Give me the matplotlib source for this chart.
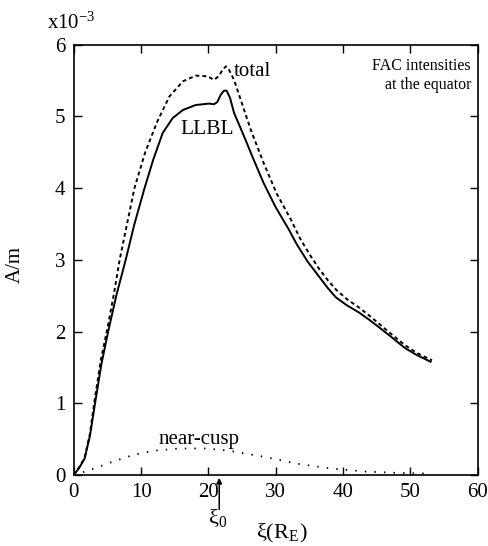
import numpy as np
import matplotlib
matplotlib.use('Agg')
import matplotlib.pyplot as plt

plt.rcParams['font.family'] = ['Liberation Serif', 'DejaVu Serif']
plt.rcParams['mathtext.fontset'] = 'stix'

# values (x in R_E, y in 1e-3 A/m)
llbl_x = [0, 0.8, 1.6, 2.4, 3.1, 4.1, 5.1, 6.3, 7.7, 9.0, 10.5, 11.8, 13.2,
          14.7, 16.2, 18.1, 20.1, 20.8, 21.3, 21.8, 22.3, 22.7, 23.2, 23.8,
          25.3, 26.7, 28.2, 29.95, 31.9, 33.1, 34.7, 36.4, 37.7, 38.9, 40.5,
          42.3, 43.8, 45.2, 47.1, 49.2, 51.0, 53.0]
llbl_y = [0, 0.1, 0.23, 0.55, 0.97, 1.55, 2.0, 2.5, 3.0, 3.5, 4.0, 4.4, 4.77,
          4.98, 5.09, 5.16, 5.18, 5.17, 5.2, 5.3, 5.36, 5.36, 5.26, 5.05,
          4.72, 4.4, 4.07, 3.74, 3.43, 3.22, 2.98, 2.77, 2.61, 2.48, 2.37,
          2.27, 2.17, 2.07, 1.93, 1.77, 1.67, 1.58]

total_x = [0, 0.8, 1.6, 2.4, 3.0, 4.0, 5.0, 6.0, 6.8, 7.9, 9.0, 10.6, 12.4,
           14.2, 16.2, 18.1, 19.9, 20.8, 21.5, 22.1, 22.6, 23.0, 23.8, 24.8,
           26.3, 28.2, 30.1, 32.2, 33.6, 35.0, 36.4, 37.7, 39.0, 40.6, 42.3,
           43.8, 45.2, 47.1, 49.2, 51.0, 53.2]
total_y = [0, 0.11, 0.24, 0.58, 0.99, 1.6, 2.05, 2.55, 3.0, 3.5, 4.0, 4.5, 4.93,
           5.28, 5.49, 5.57, 5.56, 5.51, 5.56, 5.65, 5.7, 5.66, 5.51, 5.23,
           4.81, 4.35, 3.93, 3.57, 3.3, 3.08, 2.88, 2.72, 2.58, 2.45, 2.34,
           2.23, 2.12, 1.97, 1.81, 1.7, 1.6]

cusp_x = [0, 2.4, 5.0, 8.8, 12.0, 15.7, 19.6, 23.0, 28.5, 33.0, 38.3, 43.0,
          48.0, 53.0]
cusp_y = [0, 0.07, 0.16, 0.28, 0.34, 0.37, 0.37, 0.34, 0.25, 0.16, 0.09, 0.05,
          0.03, 0.02]

xi0 = 21.6

fig = plt.figure(figsize=(4.89, 5.46), dpi=100)
ax = fig.add_axes([0.151, 0.130, 0.826, 0.788])

ax.plot(llbl_x, llbl_y, color='black', lw=1.4)
ax.plot(total_x, total_y, color='black', lw=1.4, dashes=(2.0, 1.6))
ax.plot(cusp_x, cusp_y, color='black', lw=1.3, dashes=(0.8, 4.5))

ax.set_xlim(0, 60)
ax.set_ylim(0, 6)
ax.set_xticks([0, 10, 20, 30, 40, 50, 60])
ax.set_yticks([0, 1, 2, 3, 4, 5, 6])
ax.tick_params(direction='in', length=6, width=1, top=True, right=True,
               labelsize=15, pad=6)
for s in ax.spines.values():
    s.set_linewidth(1.2)

ax.text(-0.067, 1.025, r'x10$^{\mathregular{-3}}$', transform=ax.transAxes,
        ha='left', va='bottom', fontsize=15)
ax.text(-0.145, 0.49, 'A/m', transform=ax.transAxes, rotation=90,
        ha='center', va='center', fontsize=15)

ax.text(23.8, 5.63, 'total', fontsize=15, va='center', ha='left')
ax.text(19.8, 4.82, 'LLBL', fontsize=15.5, va='center', ha='center')
ax.text(18.6, 0.49, 'near-cusp', fontsize=15, va='center', ha='center')
ax.text(59.0, 5.57, 'FAC intensities\nat the equator', fontsize=11.5,
        ha='right', va='center', linespacing=1.2)

# xi_0 arrow below the axis
ax.annotate('', xy=(xi0, 0.0), xytext=(xi0, -0.52), xycoords='data',
            arrowprops=dict(arrowstyle='-|>', color='black', lw=1.1,
                            mutation_scale=8), annotation_clip=False)
ax.text(21.3, -0.6, r'ξ$_{\mathregular{0}}$', fontsize=16, ha='center',
        va='center')
ax.text(30.9, -0.82, r'ξ(R$_{\mathregular{E}}$)', fontsize=16,
        ha='center', va='center')

fig.savefig('out.png', dpi=100)
